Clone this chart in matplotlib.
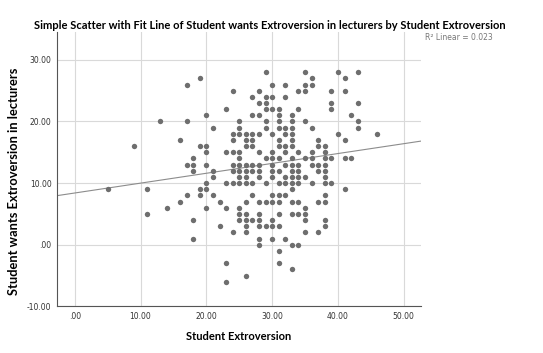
import numpy as np
import matplotlib
matplotlib.use("Agg")
import matplotlib.pyplot as plt

# points, grouped by y value (Student wants Extroversion)
rows = {
    28: [29, 35, 40, 43],
    27: [19, 36, 41],
    26: [17, 30, 32, 35, 36],
    25: [24, 28, 34, 35, 39, 41],
    24: [27, 29, 30, 32],
    23: [28, 29, 39, 43],
    22: [23, 29, 30, 31, 34, 39],
    21: [20, 27, 28, 31, 33, 42],
    20: [13, 17, 25, 29, 31, 33, 35, 43],
    19: [21, 25, 29, 31, 32, 33, 36, 43],
    18: [24, 25, 26, 27, 28, 30, 32, 33, 40, 46],
    17: [16, 24, 26, 27, 31, 33, 37, 41],
    16: [9, 19, 20, 26, 27, 31, 32, 33, 37, 38],
    15: [20, 23, 24, 25, 28, 30, 32, 34, 36, 38],
    14: [18, 25, 29, 30, 31, 33, 35, 36, 38, 39, 41, 42],
    13: [17, 18, 20, 24, 25, 26, 27, 28, 30, 32, 33, 34, 36, 37, 38],
    12: [18, 21, 24, 25, 26, 27, 28, 30, 31, 33, 34, 37, 38],
    11: [21, 25, 26, 28, 30, 32, 33, 34, 35, 38],
    10: [20, 23, 24, 25, 26, 27, 29, 31, 32, 33, 34, 36, 38, 39],
    9: [5, 11, 19, 20, 33, 41],
    8: [17, 19, 21, 27, 30, 31, 32, 38],
    7: [16, 22, 26, 28, 29, 30, 31, 33, 34, 37, 38],
    6: [14, 20, 23, 25, 35],
    5: [11, 25, 26, 28, 31, 33, 34, 35],
    4: [18, 25, 26, 27, 28, 30, 35, 38],
    3: [22, 26, 28, 29, 30, 31, 38],
    2: [24, 26, 35, 37],
    1: [18, 28, 30, 32],
    0: [28, 33, 34],
    -1: [31],
    -3: [23, 31],
    -4: [33],
    -5: [26],
    -6: [23],
}
# fit line as drawn in the reference (R2 = 0.023)
fit_intercept = 8.4
fit_slope = 0.16
x_ticks = [0, 10, 20, 30, 40, 50]
y_ticks = [-10, 0, 10, 20, 30]
r2_text = "R² Linear = 0.023"

xs = np.array([x for y, xl in rows.items() for x in xl], dtype=float)
ys = np.array([y for y, xl in rows.items() for x in xl], dtype=float)

def fmt(v):
    s = "%.2f" % v
    return s[1:] if s.startswith("0") else s

fig = plt.figure(figsize=(5.43, 3.53), dpi=100)
ax = fig.add_axes([0.105, 0.132, 0.67, 0.777])

ax.scatter(xs, ys, s=15, color="#6e6e6e", linewidths=0, zorder=3)

xmin, xmax = -2.7, 52.6
xl = np.array([xmin, xmax])
ax.plot(xl, fit_intercept + fit_slope * xl, color="#8c8c8c", lw=0.8, zorder=2)

ax.set_xlim(xmin, xmax)
ax.set_ylim(-10, 34.5)
ax.set_xticks(x_ticks)
ax.set_yticks(y_ticks)
ax.set_xticklabels([fmt(v) for v in x_ticks])
ax.set_yticklabels([fmt(v) for v in y_ticks])
ax.grid(True, color="#d9d9d9", lw=0.8)
ax.set_axisbelow(True)
for s in ["top", "right"]:
    ax.spines[s].set_visible(False)
for s in ["left", "bottom"]:
    ax.spines[s].set_color("#555555")
    ax.spines[s].set_linewidth(0.8)
ax.tick_params(length=0, labelsize=5.5, colors="#333333", pad=4)

lab = dict(fontsize=8, fontweight="bold", family="Lato")
ax.set_xlabel("Student Extroversion", labelpad=7, **lab)
fig.text(0.026, 0.486, "Student wants Extroversion in lecturers", rotation=90,
         ha="center", va="center", fontsize=9.3, fontweight="bold", family="Lato")
fig.text(0.497, 0.929, "Simple Scatter with Fit Line of Student wants Extroversion in lecturers by Student Extroversion",
         ha="center", va="center", **lab)
fig.text(0.783, 0.893, r2_text, fontsize=5.5, color="#777777", va="center")

fig.savefig("out.png", dpi=100)
